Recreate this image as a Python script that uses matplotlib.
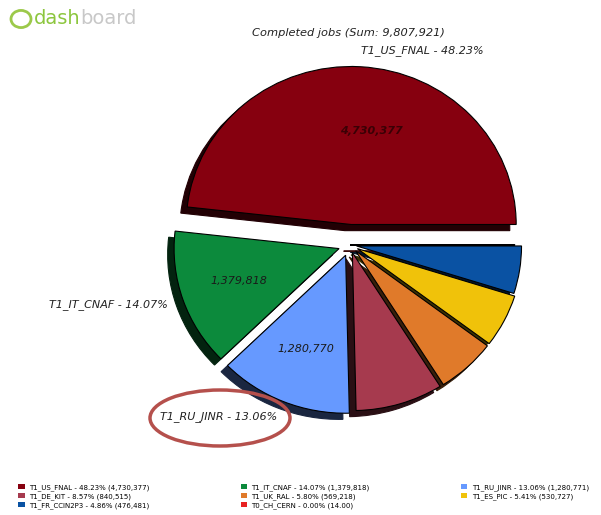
import matplotlib
matplotlib.use("Agg")
import matplotlib.pyplot as plt
from matplotlib.patches import Ellipse, Circle
import numpy as np

# data, in the order the pie draws them (counter-clockwise from 0 deg)
sites = ["T1_US_FNAL", "T1_IT_CNAF", "T1_RU_JINR", "T1_DE_KIT",
         "T1_UK_RAL", "T1_ES_PIC", "T1_FR_CCIN2P3", "T0_CH_CERN"]
jobs = [4730377, 1379818, 1280771, 840515, 569218, 530727, 476481, 14.0]
# numbers printed inside the three big slices
inside_vals = [4730377, 1379818, 1280770]
colors = ["#86000f", "#0c8a3c", "#6699ff", "#a63a4e",
          "#e07a2a", "#f0c20a", "#0a52a3", "#e82222"]
explode = [0.13, 0.07, 0.07, 0.05, 0.05, 0.05, 0.04, 0.0]
big = ["T1_US_FNAL", "T1_IT_CNAF", "T1_RU_JINR"]

total = sum(jobs)
pcts = [100.0 * v / total for v in jobs]

fig = plt.figure(figsize=(6.01, 5.15), dpi=100)

# pie axes: centre around (350, 245) px, slightly wider than tall
rx, ry = 165.0, 158.0
lim = 1.5
cx, cy = 350, 245
ax = fig.add_axes([(cx - lim * rx) / 601, (515 - cy - lim * ry) / 515,
                   2 * lim * rx / 601, 2 * lim * ry / 515])

outer = [f"{s} - {p:.2f}%" if s in big else "" for s, p in zip(sites, pcts)]
vals_iter = iter(inside_vals)

def inner(p):
    if p < 10:
        return ""
    return f"{next(vals_iter):,}"

wedges, texts, autotexts = ax.pie(
    jobs, colors=colors, explode=explode, startangle=0, counterclock=True,
    labels=outer, labeldistance=1.1, autopct=inner, pctdistance=0.64,
    shadow={"ox": -0.028, "oy": -0.028, "shade": 0.75, "alpha": 1.0},
    wedgeprops={"edgecolor": "black", "linewidth": 0.8},
    textprops={"fontsize": 8, "style": "italic"}, radius=1.0)
ax.set_xlim(-lim, lim)
ax.set_ylim(-lim, lim)
ax.set_aspect("auto")
ax.axis("off")

for t in texts:
    t.set_color("#222222")
for t in autotexts:
    t.set_color("#1a1a1a")
autotexts[0].set_color("#3a0005")
autotexts[0].set_weight("bold")
autotexts[0].set_position((0.13, 0.72))

fig.text(348 / 601, 1 - 33 / 515, "Completed jobs (Sum: %s)" % f"{int(total):,}",
         ha="center", va="center", fontsize=8.2, style="italic", color="#222222")

# highlight ring around the JINR label
fig.patches.append(Ellipse((220 / 601, 1 - 418 / 515), 140 / 601, 56 / 515,
                           transform=fig.transFigure, fill=False,
                           edgecolor="#b5504c", linewidth=2.5))

# dashboard logo
fig.patches.append(Circle((21 / 601, 1 - 19 / 515), 10 / 601, transform=fig.transFigure,
                          fill=False, edgecolor="#9cc94a", linewidth=2))
t1 = fig.text(34 / 601, 1 - 19 / 515, "dash", ha="left", va="center",
              fontsize=14, color="#8cc63e", family="DejaVu Sans")
fig.canvas.draw()
bb = t1.get_window_extent()
fig.text(bb.x1 / 601, 1 - 19 / 515, "board", ha="left", va="center",
         fontsize=14, color="#c8c8c8", family="DejaVu Sans")

# legend, row-wise across three columns
def val_str(v):
    if v < 100:
        return f"{v:,.2f}"
    return f"{int(v):,}"

leg_labels = [f"{s} - {p:.2f}% ({val_str(v)})" for s, p, v in zip(sites, pcts, jobs)]
order = [0, 3, 6, 1, 4, 7, 2, 5]
handles = [plt.Rectangle((0, 0), 1, 1, facecolor=colors[i], edgecolor="none") for i in order]
fig.legend(handles, [leg_labels[i] for i in order], ncol=3, loc="lower left",
           bbox_to_anchor=(0.02, 0.0, 0.97, 0.1), mode="expand", frameon=False,
           fontsize=5.0, handlelength=0.9, handleheight=0.9, handletextpad=0.6,
           labelspacing=0.3, borderaxespad=0.5)

fig.savefig("out.png", dpi=100)
